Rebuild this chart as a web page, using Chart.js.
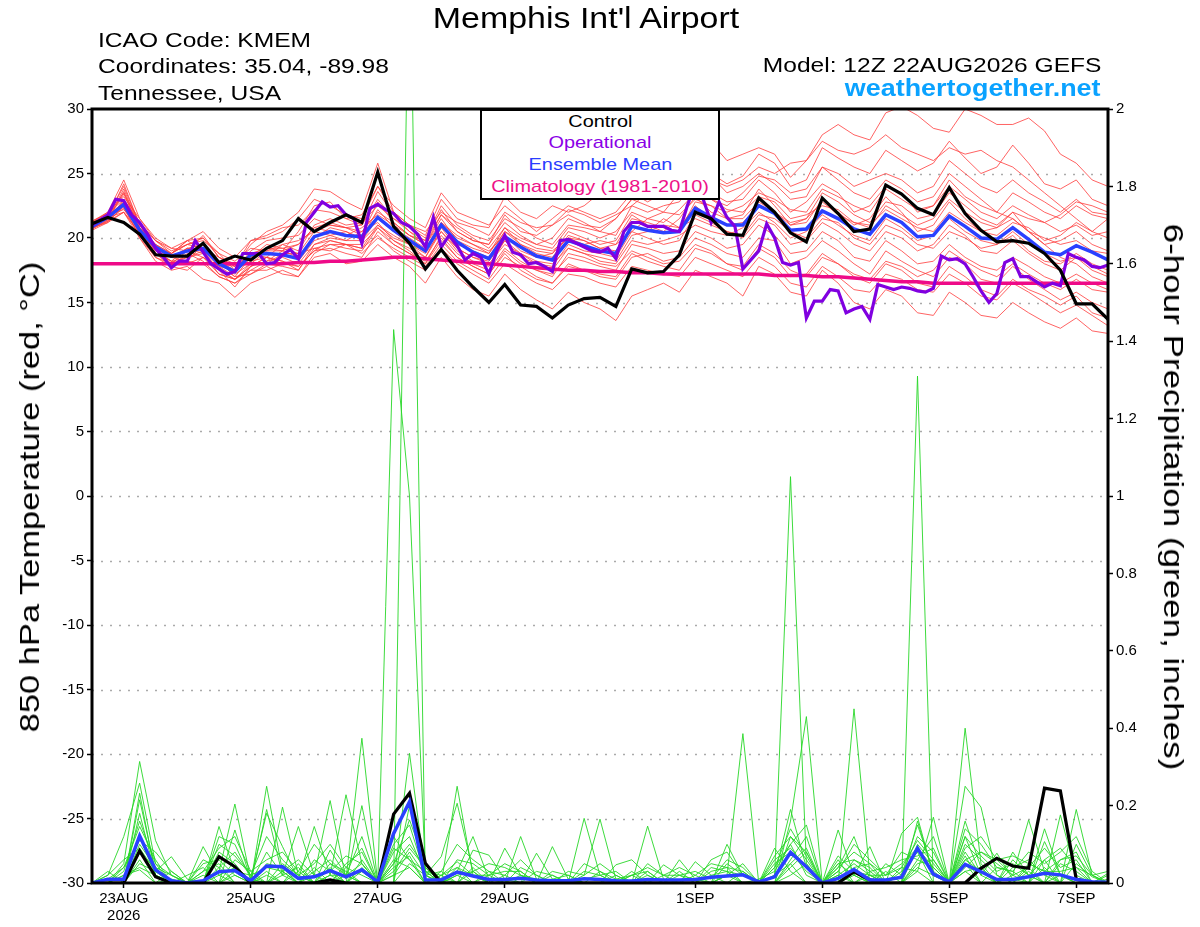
<!DOCTYPE html>
<html><head><meta charset="utf-8">
<script src="https://cdn.jsdelivr.net/npm/chart.js@4.4.1/dist/chart.umd.min.js"></script>
<style>
body{margin:0;background:#fff;}
#wrap{position:relative;width:1200px;height:927px;font-family:"Liberation Sans",Arial,sans-serif;overflow:hidden;}
#wrap canvas{position:absolute;left:0;top:0;}
.t{position:absolute;white-space:nowrap;color:#000;line-height:1;}
.l{transform-origin:left center;transform:scaleX(1.17);}
.r{transform-origin:right center;transform:scaleX(1.17);}
.c{transform:translateX(-50%) scaleX(1.17);}
#legend{position:absolute;left:480px;top:109px;width:240px;height:91px;box-sizing:border-box;border:2px solid #000;background:#fff;}
#legend div{position:absolute;left:0;width:100%;text-align:center;font-size:17px;line-height:1;white-space:nowrap;}
#legend span{display:inline-block;transform:scaleX(1.17);}
</style></head><body>
<div id="wrap">
<canvas id="c" width="1200" height="927"></canvas>
<div class="t c" style="left:586px;top:4px;font-size:29px;">Memphis Int'l Airport</div>
<div class="t l" style="left:98px;top:29px;font-size:21px;">ICAO Code: KMEM</div>
<div class="t l" style="left:98px;top:55px;font-size:21px;">Coordinates: 35.04, -89.98</div>
<div class="t l" style="left:98px;top:82px;font-size:21px;">Tennessee, USA</div>
<div class="t r" style="right:99px;top:54px;font-size:21px;">Model: 12Z 22AUG2026 GEFS</div>
<div class="t r" style="right:99px;top:77px;font-size:23px;font-weight:bold;color:#0aa2ff;">weathertogether.net</div>
<div id="legend">
  <div style="top:2px;color:#000;"><span>Control</span></div>
  <div style="top:23px;color:#8a00e6;"><span>Operational</span></div>
  <div style="top:45px;color:#2a3cff;"><span>Ensemble Mean</span></div>
  <div style="top:67px;color:#ee1188;"><span>Climatology (1981-2010)</span></div>
</div>
<div class="t" style="left:30px;top:497px;font-size:28px;transform:translate(-50%,-50%) rotate(-90deg) scaleX(1.23);">850 hPa Temperature (red, °C)</div>
<div class="t" style="left:1173px;top:497px;font-size:28px;transform:translate(-50%,-50%) rotate(90deg) scaleX(1.25);">6-hour Precipitation (green, inches)</div>
</div>
<script>
// ---- x axis (6-hourly steps from 12Z 22AUG2026) ----
const xTickSteps = [2, 10, 18, 26, 38, 46, 54, 62];
const xTickLabels = ['23AUG', '25AUG', '27AUG', '29AUG', '1SEP', '3SEP', '5SEP', '7SEP'];
const xTickYear = '2026';

// ---- 850 hPa temperature (°C) ----
const controlTemp = [21.1,21.6,21.2,20.3,18.7,18.6,18.6,19.6,18.1,18.6, 18.3,19.2,19.8,21.5,20.5,21.2,21.8,21.2,25.1,20.9, 19.6,17.6,19.1,17.5,16.2,15.0,16.4,14.8,14.7,13.8, 14.8,15.3,15.4,14.7,17.6,17.3,17.4,18.7,22.0,21.5, 20.3,20.2,23.1,22.0,20.4,19.7,23.1,21.9,20.5,20.7, 24.1,23.4,22.3,21.8,23.9,21.9,20.6,19.7,19.8,19.6, 18.8,17.5,14.9,14.9,13.7];
const meanTemp = [20.9,21.6,22.6,20.6,19.3,18.6,19.0,19.2,18.0,17.4, 18.7,18.8,18.7,18.4,20.1,20.5,20.2,20.1,21.6,20.6, 19.8,19.0,21.0,19.7,18.9,18.4,20.1,19.3,18.6,18.3, 19.8,19.4,19.0,18.8,20.9,20.6,20.4,20.5,22.3,21.6, 21.0,21.0,22.5,21.9,20.6,20.7,22.1,21.5,20.7,20.3, 21.8,21.2,20.1,20.2,21.7,20.9,20.0,19.9,20.8,19.9, 18.9,18.7,19.4,18.9,18.3];
const climoTemp = [18.0,18.0,18.0,18.0,18.0,18.0,18.0,18.0,18.0,18.0, 18.0,18.0,18.0,18.1,18.1,18.2,18.2,18.3,18.4,18.5, 18.5,18.4,18.3,18.2,18.1,18.0,17.9,17.8,17.7,17.6, 17.5,17.5,17.4,17.4,17.3,17.3,17.2,17.2,17.2,17.2, 17.2,17.2,17.2,17.1,17.1,17.1,17.0,17.0,16.9,16.8, 16.7,16.6,16.6,16.5,16.5,16.5,16.5,16.5,16.5,16.5, 16.5,16.5,16.5,16.5,16.5];
// operational run, 3-hourly
const operTemp = [21.0,21.4,21.8,23.0,22.9,21.8,21.2,20.3,19.2,18.5, 17.7,18.2,18.2,19.8,18.9,18.0,17.6,17.2,17.4,18.8, 18.8,18.8,18.0,18.1,18.7,19.1,18.4,21.2,22.0,22.8, 22.4,22.5,21.8,21.5,19.6,22.3,22.6,22.2,21.9,21.2, 20.9,20.3,19.3,21.6,19.3,20.2,19.4,18.3,18.8,18.5, 17.2,19.0,20.2,18.9,18.7,18.0,18.1,17.8,17.4,19.8, 19.9,19.6,19.3,19.0,18.9,19.2,18.4,20.5,21.2,21.2, 20.9,20.9,20.9,20.6,20.5,22.5,24.2,23.0,21.2,22.8, 21.6,20.9,17.6,18.3,19.0,21.1,20.0,18.1,17.9,18.1, 13.8,15.1,15.1,16.0,15.9,14.2,14.5,14.7,13.7,16.4, 16.2,16.0,16.2,16.1,15.9,15.8,16.1,18.6,18.3,18.4, 18.0,17.0,15.9,15.0,15.7,18.1,18.4,17.0,17.0,16.6, 16.2,16.5,16.3,18.8,18.5,18.3,17.8,17.7,17.9];

const tempMember01 = [21.0,21.8,24.0,21.0,19.5,18.8,19.5,20.0,18.5,17.8, 19.5,20.5,21.0,22.0,23.8,23.6,22.8,22.2,25.8,22.0, 21.0,20.2,23.0,21.5,21.0,20.8,23.2,22.0,21.5,22.5, 22.0,22.5,23.5,23.0,24.8,25.0,26.0,25.8,27.6,27.4, 26.0,26.5,27.0,26.5,24.7,26.0,28.0,28.8,28.0,27.6, 29.7,30.2,29.5,28.5,28.2,30.0,29.5,28.8,28.8,29.3, 28.3,26.5,25.8,24.5,24.0];
const tempMember02 = [21.2,21.5,23.4,20.8,19.0,18.2,19.2,18.8,17.6,16.8, 17.5,18.2,19.0,20.5,22.5,22.8,21.5,21.0,23.6,21.8, 20.5,19.8,22.2,20.5,19.8,19.5,21.8,20.5,20.2,21.0, 21.8,21.2,20.5,21.5,23.0,23.8,24.5,24.0,25.5,25.0, 24.2,24.8,26.5,25.8,24.0,24.5,27.0,26.2,25.5,25.0, 26.8,26.0,25.2,25.8,27.5,26.2,25.0,25.5,27.2,25.8, 24.2,23.8,24.5,23.0,22.5];
const tempMember03 = [20.8,21.2,22.0,20.0,18.2,17.5,17.8,16.8,16.5,15.4, 16.5,17.0,17.5,17.0,18.5,18.8,18.0,18.2,19.5,18.5, 17.8,16.5,18.5,17.0,16.0,15.5,17.2,16.0,15.2,14.5, 15.8,15.0,14.5,13.6,15.5,16.0,16.5,15.8,17.5,17.0, 16.5,15.5,17.8,17.2,15.8,15.5,17.5,16.5,15.0,14.5, 16.0,15.5,14.2,14.0,15.8,15.0,14.0,13.8,15.0,14.2, 13.5,13.0,13.8,12.8,12.6];
const tempMember04 = [21.0,21.9,23.0,21.2,19.8,19.0,19.5,19.8,18.8,18.2, 19.2,19.0,19.5,19.0,21.0,21.5,21.0,21.2,22.5,21.5, 20.8,20.0,22.5,21.0,20.2,19.8,21.5,20.8,20.0,19.5, 21.0,20.8,20.5,20.2,22.5,22.0,22.5,22.8,24.5,23.5, 22.8,23.0,24.5,23.5,22.0,22.8,24.2,23.5,22.0,22.5, 24.0,23.5,22.0,22.5,24.5,23.2,22.5,22.0,23.5,22.8, 22.0,21.5,22.5,21.8,21.5];
const tempMember05 = [20.7,21.4,22.3,20.2,18.8,18.0,18.5,18.8,17.2,16.8, 18.0,18.0,17.8,17.5,19.2,19.5,19.2,19.0,20.8,19.5, 18.8,18.2,20.0,18.5,17.8,17.2,19.0,18.0,17.5,17.2, 18.5,18.2,17.8,17.5,19.5,19.2,18.8,19.0,20.5,20.0, 19.2,19.5,21.0,20.2,18.8,19.0,20.5,19.8,18.5,18.2, 19.8,19.0,18.0,18.2,19.5,18.5,17.8,17.5,18.5,17.8, 17.0,16.5,17.2,16.5,16.0];
const tempMember06 = [21.1,21.7,22.8,20.5,19.0,18.5,18.2,19.5,18.2,17.0, 18.5,19.5,19.2,18.8,20.5,21.0,20.8,20.5,22.0,21.2, 20.2,19.5,21.5,19.8,19.2,18.8,20.8,19.5,19.0,18.8, 20.5,20.0,19.5,19.8,21.8,21.0,20.5,21.5,23.2,22.0, 21.5,21.8,23.8,22.5,21.0,21.2,23.0,22.0,21.0,21.5, 23.2,22.0,20.5,21.0,22.8,21.5,20.5,20.8,22.0,20.5, 19.5,19.8,20.5,19.5,19.0];
const tempMember07 = [20.9,21.5,23.8,20.8,19.2,18.8,19.8,19.0,17.8,17.5, 18.2,18.5,18.0,18.2,19.8,20.2,19.8,20.5,21.2,19.8, 19.2,18.5,20.8,19.2,18.5,18.0,19.5,18.8,18.2,18.0, 19.2,18.8,18.5,18.2,20.2,20.5,21.5,20.8,21.5,21.0, 20.5,20.2,21.8,21.5,20.5,20.0,21.5,21.2,20.0,19.5, 21.0,20.5,19.5,19.2,20.5,20.0,19.2,19.5,20.2,19.0, 18.2,18.0,18.8,18.0,17.5];
const tempMember08 = [21.3,22.0,23.2,21.5,20.0,19.2,19.0,20.2,18.5,17.8, 19.8,20.0,20.5,21.5,23.0,22.5,21.8,21.5,24.0,22.5, 21.5,20.8,23.5,22.0,21.5,21.0,22.5,21.5,20.5,21.5, 22.5,22.0,21.5,22.0,23.5,22.8,23.5,24.5,25.5,24.8, 23.5,24.0,25.0,24.2,23.0,23.2,25.5,24.5,23.5,23.0, 24.5,23.8,22.8,23.2,25.0,24.0,23.0,22.0,21.5,20.5, 19.5,18.5,18.0,17.0,16.5];
const tempMember09 = [20.6,21.2,22.5,20.0,18.5,17.8,18.8,18.2,17.0,16.5, 17.2,17.8,17.2,17.0,18.8,19.5,19.5,18.8,20.0,19.2, 18.5,17.8,19.5,18.2,17.5,16.8,18.5,17.8,17.0,16.5, 17.8,17.5,17.0,16.8,18.5,18.8,18.2,18.5,20.0,19.5, 18.8,18.5,20.0,19.8,18.0,18.5,19.8,19.0,18.0,17.2, 19.0,18.2,17.5,17.0,18.5,18.0,16.8,16.5,17.8,16.8, 16.0,15.2,15.8,15.0,14.5];
const tempMember10 = [21.2,21.8,22.2,20.8,19.5,18.5,19.2,19.5,18.0,17.8, 18.8,18.5,19.5,19.8,20.5,20.2,20.5,19.8,21.5,20.5, 19.5,19.0,21.0,19.5,19.0,18.5,20.5,19.5,18.8,18.5, 20.2,19.8,19.2,19.5,21.5,21.2,20.8,20.5,22.8,22.5, 21.5,21.5,22.8,22.0,21.0,21.5,22.8,21.8,21.2,20.8, 22.5,21.8,21.0,21.5,23.0,22.0,21.2,20.8,21.5,20.5, 20.0,19.5,19.8,19.0,18.8];
const tempMember11 = [20.8,21.3,22.0,20.3,18.8,18.2,18.0,18.5,17.5,16.2, 17.8,18.5,18.2,17.8,19.0,19.8,19.5,19.5,20.8,19.8, 19.0,18.0,20.2,18.8,18.0,17.5,19.2,18.2,17.5,17.0, 18.8,18.5,18.0,17.8,19.0,18.5,18.0,18.2,19.5,19.0, 18.0,17.5,19.2,18.5,17.0,17.2,18.8,18.0,17.0,16.5, 18.0,17.5,16.5,16.2,17.8,17.0,16.0,15.5,16.8,16.0, 15.5,14.8,15.5,14.2,13.8];
const tempMember12 = [21.0,21.6,24.2,21.0,19.2,18.5,19.0,19.2,18.0,17.2, 18.0,19.0,19.0,18.5,20.0,20.8,20.5,20.0,22.2,20.8, 20.0,19.2,21.2,20.2,19.5,18.8,20.5,19.8,19.2,19.0, 20.0,19.5,19.8,19.5,20.5,21.5,22.0,21.8,23.0,22.5, 22.0,22.5,23.5,23.0,22.2,22.0,23.8,23.2,22.5,22.0, 23.8,23.0,22.2,22.5,24.0,23.0,22.0,21.5,22.5,21.8, 21.2,20.5,21.0,20.2,20.5];
const tempMember13 = [20.9,21.4,23.6,20.5,19.0,18.2,18.5,19.0,17.5,16.8, 17.8,18.2,18.5,18.0,19.5,20.0,19.8,19.8,21.0,20.0, 19.5,18.5,20.5,19.0,18.2,17.8,19.8,18.8,18.0,17.8, 19.5,19.0,18.8,18.5,20.5,20.0,19.5,19.8,21.8,21.2, 20.5,20.0,21.5,21.0,19.5,19.8,21.2,20.5,19.5,19.0, 20.5,20.0,19.0,19.5,21.0,20.2,19.0,18.8,19.8,18.8, 18.0,17.5,18.5,17.8,17.2];
const tempMember14 = [21.3,21.9,22.5,21.0,19.8,18.8,19.8,20.0,18.8,17.5, 19.0,19.8,20.0,20.2,21.5,21.0,20.8,21.0,23.0,21.5, 20.5,19.5,21.8,20.5,19.8,19.5,21.2,20.2,19.5,20.0, 21.5,21.0,20.8,21.5,23.0,22.5,22.0,23.5,24.0,23.0, 22.5,23.5,24.8,24.5,23.5,23.8,25.5,25.0,24.0,24.5, 25.0,24.5,23.5,24.0,26.0,25.0,24.0,23.5,24.5,23.5, 22.8,22.0,23.0,22.0,21.8];
const tempMember15 = [20.7,21.3,23.0,20.2,18.5,18.0,18.2,18.0,17.0,16.5, 17.5,17.5,18.0,17.8,19.0,19.2,18.8,18.5,20.5,19.5, 18.8,18.0,19.8,18.5,17.8,17.2,18.8,17.5,16.8,16.5, 18.0,17.5,17.2,17.0,18.8,18.2,17.8,17.5,19.2,18.8, 18.0,17.8,19.5,18.8,17.5,17.0,18.5,18.0,17.2,16.8, 18.2,17.8,17.0,17.5,19.0,18.2,17.5,17.0,18.0,17.2, 16.5,16.0,16.8,16.0,15.8];
const tempMember16 = [21.0,21.7,22.8,20.8,19.5,18.8,19.5,19.2,18.5,18.0, 18.5,19.2,19.0,19.5,20.8,20.5,20.2,20.8,21.8,21.0, 20.2,19.8,21.8,20.8,20.0,19.2,20.8,20.0,19.5,19.2, 20.8,20.5,20.0,20.5,22.0,21.5,21.2,22.2,23.5,23.0, 22.2,22.0,23.2,22.8,21.5,21.8,22.5,22.2,21.2,21.0, 22.2,21.5,20.8,20.5,22.0,21.2,20.5,20.2,21.2,20.8, 19.8,20.2,21.2,20.5,21.5];
const tempMember17 = [20.8,21.5,22.4,20.5,18.8,17.8,17.5,18.5,17.8,17.0, 17.2,18.0,18.8,18.8,19.2,19.0,19.5,19.2,20.2,19.0, 18.2,17.5,19.2,18.0,17.2,16.5,18.0,17.2,16.5,16.0, 17.2,17.0,16.5,16.2,17.8,17.5,17.2,17.0,18.5,18.0, 17.5,17.0,18.5,17.8,16.5,16.2,17.8,17.0,16.0,15.8, 17.2,16.8,16.0,15.8,17.2,16.5,15.5,15.2,16.5,15.8, 15.0,14.2,14.8,14.0,13.2];
const tempMember18 = [21.1,21.8,23.5,21.2,19.2,18.5,19.2,19.0,18.2,17.5, 18.8,19.2,19.2,19.5,20.8,21.2,20.8,20.2,22.8,21.2, 20.2,19.5,21.2,20.0,19.5,19.0,20.2,19.0,18.5,18.8, 20.0,19.8,19.2,19.0,21.0,20.5,21.0,20.8,22.5,21.5, 21.0,21.2,22.5,22.0,21.2,21.5,23.5,22.8,21.8,21.2, 22.8,22.5,21.5,21.8,23.5,22.5,21.5,21.0,22.0,21.5, 21.2,21.8,22.8,22.5,22.0];
const tempMember19 = [20.9,21.6,22.0,20.5,19.2,18.0,19.0,18.5,17.2,16.8, 17.8,18.5,18.2,17.5,19.5,19.8,19.5,19.2,21.0,20.2, 19.5,18.8,20.5,19.2,18.5,18.2,19.8,18.5,18.0,17.5, 19.2,18.8,18.2,18.0,19.8,19.5,19.8,20.2,21.0,20.5, 20.2,20.8,22.0,21.2,20.0,20.5,21.8,21.0,20.2,19.8, 21.5,20.8,19.8,20.2,21.5,20.5,19.8,19.5,20.5,19.5, 18.8,18.2,18.5,17.5,17.0];
const tempMember20 = [21.2,22.0,24.5,21.5,19.8,19.2,19.8,20.5,19.2,18.5, 19.8,20.2,20.8,21.0,22.2,22.0,21.5,21.8,24.0,22.0, 21.0,20.5,22.0,21.2,20.8,20.2,22.0,21.2,20.8,21.0, 22.2,21.8,21.2,21.8,22.5,23.5,24.0,23.8,25.0,24.5, 24.0,24.5,25.5,25.0,25.8,26.0,27.5,26.8,26.5,27.0, 28.0,27.0,26.5,26.0,27.0,26.5,26.8,26.0,25.5,24.5, 23.5,22.5,21.5,20.5,20.0];
const tempMembers = [tempMember01,tempMember02,tempMember03,tempMember04,tempMember05,tempMember06,tempMember07,tempMember08,tempMember09,tempMember10,tempMember11,tempMember12,tempMember13,tempMember14,tempMember15,tempMember16,tempMember17,tempMember18,tempMember19,tempMember20];

// ---- 6-hour precipitation (inches) ----
const controlPrecip = [0,0,0,.083,.016,0,0,0,.068,.042, 0,0,0,0,0,.008,0,0,0,.178, .232,.051,0,0,0,0,0,0,0,0, 0,0,0,0,0,0,0,0,0,0, 0,0,0,0,0,0,0,0,.029,.008, 0,0,0,0,0,0,.038,.064,.044,.038, .245,.238,.01,0,0];
const meanPrecip = [0,.01,.01,.122,.034,.006,0,.006,.029,.032, .006,.044,.042,.012,.016,.032,.016,.034,.003,.128, .21,.008,.008,.028,.018,.009,.009,.012,.008,.006, .006,.011,.009,.006,.005,.009,.008,.008,.009,.015, .018,.021,.003,.016,.079,.042,0,.012,.035,.008, .008,.015,.09,.023,.003,.048,.029,.009,.009,.016, .025,.021,.009,.003,.002];
const precipMember01 = [0,0,.05,.314,.11,.02,0,0,.03,.204, .01,0,0,0,0,.02,.228,.05,0,0, 2.5,0,0,.03,.12,.01,0,0,0,0, 0,.02,.165,.01,0,0,0,0,0,0, .02,.386,0,.02,.19,.04,0,0,.02,.094, 0,0,.03,.17,0,.40,.05,0,.02,.163, .03,0,.19,.02,0];
const precipMember02 = [0,.02,.12,.258,.05,0,0,.094,.02,0, 0,.25,.03,0,.02,.213,.01,.374,0,1.43, 1.0,.03,0,.25,.02,0,0,.12,.01,0, 0,0,0,0,0,.147,.01,0,0,0, 0,0,0,.02,1.05,.05,0,.137,.02,0, 0,0,.16,.02,0,.25,.196,.02,0,0, .14,.02,0,0,0];
const precipMember03 = [0,0,0,.232,.02,0,0,0,.146,.03, 0,.19,.02,.146,.02,0,0,.20,0,0, .335,.02,.068,.206,.03,0,0,0,0,.094, .01,0,0,0,0,0,0,0,0,0, .10,.02,0,0,.16,.43,0,0,.45,.02, 0,0,1.31,0,0,.16,.04,0,.08,.02, 0,.176,.02,0,0];
const precipMember04 = [0,0,0,.215,.03,.068,.01,0,0,.137, .01,0,.196,.02,0,.085,.02,0,0,.05, .163,.05,.01,0,.085,.072,.01,0,0,0, 0,.167,.02,0,0,0,0,.06,.01,0, 0,0,0,.09,.03,0,0,.04,.12,.01, 0,.128,.17,.02,0,.12,.02,.077,.01,0, .107,.02,0,0,.025];
const precipMember05 = [0,0,0,.18,.02,0,0,0,.12,.10, .01,.18,.094,.01,.146,.02,0,.03,0,.08, .12,.02,0,0,0,0,.09,.02,0,0, 0,0,0,.047,.06,.02,0,0,0,.06, .08,.02,0,0,.05,0,0,.02,0,0, .05,.02,.15,.03,0,.05,0,0,.06,.02, 0,0,.05,.016,0];
const precipMember06 = [0,0,.04,.146,.06,0,0,.03,.05,0, 0,0,.02,.04,0,.05,.03,0,0,.12, .06,0,.02,.055,.02,0,0,0,.077,.01, 0,0,0,0,0,0,.047,.02,0,0, 0,0,0,0,.12,.06,0,.03,0,.03, 0,0,.06,.04,0,.08,.02,0,0,.05, .03,.03,.04,0,0];
const precipMember07 = [0,0,0,.12,.02,0,0,0,0,.03, .02,0,0,0,0,0,.05,.08,0,.03, .09,.04,0,0,0,.02,.03,.03,0,0, 0,0,0,0,.02,0,0,0,.055,.02, 0,0,.01,.03,.10,.02,0,0,.06,.04, 0,0,.10,.05,0,.03,0,.04,.03,0, .06,0,0,0,0];
const precipMember08 = [0,.03,0,.077,.04,.02,0,0,.08,.05, 0,.05,.04,0,.06,.03,0,.06,0,0, .05,.02,0,0,.03,0,0,0,0,.03, .02,0,0,0,0,0,0,0,0,.03, .04,0,0,.05,.08,.03,0,.02,.05,.02, 0,0,.05,.06,0,.06,.03,0,0,.03, 0,.05,.03,0,0];
const precipMember09 = [0,0,0,.05,.03,0,.02,.04,0,.06, .03,0,.05,.02,0,0,.04,.02,0,.04, .07,0,0,.02,0,0,0,.02,0,0, 0,.03,.02,0,0,.03,0,0,0,0, 0,.03,0,0,.06,.12,0,.06,0,.02, 0,.03,.08,0,0,.10,.06,.02,0,0, .04,0,.10,.02,0];
const precipMember10 = [0,0,.02,.034,0,.03,0,0,.04,0, 0,.03,0,.03,0,.04,0,.04,0,.02, .04,0,.03,0,.04,0,.02,0,0,0, .01,0,0,0,.03,0,0,0,.02,0, .05,.02,0,0,.04,.08,0,0,.03,0, .03,0,.04,.02,0,.04,.08,.05,.02,0, 0,.02,0,0,.02];
const precipMember11 = [0,0,0,.10,.04,0,0,0,.02,.04, 0,0,.03,0,.04,0,.02,.03,0,0, .2,.03,0,.04,0,.03,0,0,0,.02, 0,0,0,.02,0,0,.02,0,0,0, .02,0,0,.04,.14,.07,0,0,.04,.05, 0,.02,.12,.08,0,.07,0,0,.04,.06, .02,0,0,0,0];
const precipMember12 = [0,0,0,.06,0,.01,0,.02,0,.02, 0,.02,0,.05,0,.02,.02,0,0,.06, .04,0,.02,0,0,0,0,.04,.02,0, 0,0,0,0,0,0,0,.03,0,.04, .03,0,0,0,.02,.05,0,.05,.02,0, 0,.04,.03,0,0,.03,.04,0,0,.04, 0,.06,.08,0,0];
const precipMember13 = [0,.02,.06,.09,.03,0,0,.05,.06,.02, 0,.08,.02,0,.03,.06,.02,.12,0,.02, .08,.02,0,.06,.05,.02,0,0,.03,.02, 0,.05,.03,0,.02,.03,0,0,0,.02, .03,.02,0,.06,.09,.04,0,.07,.03,.02, .02,.05,.09,.04,0,.12,.07,.03,.05,.02, .06,.09,.04,.02,.03];
const precipMember14 = [0,0,.03,.16,.05,.02,0,0,.10,.07, .02,.12,.06,.02,.05,.10,.04,.09,0,.10, .15,.02,.03,.10,.06,.03,.02,.06,.02,0, .03,.02,.05,.02,0,.05,.02,.02,.03,.01, .06,.04,0,.04,.10,.15,0,.04,.08,.05, .02,.08,.06,.12,0,.14,.10,.04,.03,.08, .05,.08,.12,.03,0];
const precipMember15 = [0,0,.02,.04,.02,0,0,.03,.09,.12, .03,.06,.08,.03,.10,.05,.02,.05,0,.05, .10,.04,0,.02,.03,.05,.04,.02,.01,0, 0,.01,.02,.03,0,.02,0,.02,.01,0, .02,.05,0,.02,.05,.09,0,.03,.10,.06, .02,.04,.11,.06,0,.09,.12,.06,.02,.04, .09,.04,.06,0,.01];
const precipMember16 = [0,.01,.04,.11,.08,.03,0,.06,.04,.08, .02,.04,.03,.06,.02,.03,.07,.05,0,.09, .06,.03,.02,.04,.02,.02,.05,.03,0,.01, .02,0,.03,.01,.02,.04,.02,.04,.02,.05, .04,.03,0,.07,.12,.08,0,.05,.06,.03, .04,.06,.07,.09,0,.06,.08,.06,.07,.05, .03,.06,.07,.02,0];
const precipMembers = [precipMember01,precipMember02,precipMember03,precipMember04,precipMember05,precipMember06,precipMember07,precipMember08,precipMember09,precipMember10,precipMember11,precipMember12,precipMember13,precipMember14,precipMember15,precipMember16];

// ---- build datasets (listed bottom -> top) ----
const FONT = '"Liberation Sans", Arial, sans-serif';
const toPts = (arr, step) => arr.map((v, i) => ({ x: i * step, y: v }));
const layers = [];
tempMembers.forEach(m => layers.push({ data: toPts(m, 1), yAxisID: 'yT', borderColor: 'rgba(255,60,60,0.8)', borderWidth: 1 }));
precipMembers.forEach(m => layers.push({ data: toPts(m, 1), yAxisID: 'yP', borderColor: 'rgba(40,215,40,0.9)', borderWidth: 1 }));
layers.push({ data: toPts(climoTemp, 1), yAxisID: 'yT', borderColor: '#ee0a88', borderWidth: 3.5 });
layers.push({ data: toPts(meanTemp, 1), yAxisID: 'yT', borderColor: '#2a40ff', borderWidth: 3.5 });
layers.push({ data: toPts(operTemp, 0.5), yAxisID: 'yT', borderColor: '#8000e0', borderWidth: 3.2 });
layers.push({ data: toPts(controlTemp, 1), yAxisID: 'yT', borderColor: '#000000', borderWidth: 3.2 });
layers.push({ data: toPts(controlPrecip, 1), yAxisID: 'yP', borderColor: '#000000', borderWidth: 3.2 });
layers.push({ data: toPts(meanPrecip, 1), yAxisID: 'yP', borderColor: '#2a40ff', borderWidth: 3.5 });
const datasets = layers.map((d, i) => Object.assign({ order: layers.length - i, pointRadius: 0, tension: 0, fill: false }, d));

const framePlugin = {
  id: 'frame',
  beforeDatasetsDraw(chart) {
    const { ctx, chartArea: a } = chart;
    const yT = chart.scales.yT;
    ctx.save();
    ctx.strokeStyle = '#aaaaaa';
    ctx.lineWidth = 1.5;
    ctx.setLineDash([2, 7]);
    for (let v = -25; v <= 25; v += 5) {
      const y = Math.round(yT.getPixelForValue(v)) + 0.5;
      ctx.beginPath(); ctx.moveTo(a.left, y); ctx.lineTo(a.right, y); ctx.stroke();
    }
    ctx.restore();
  },
  afterDatasetsDraw(chart) {
    const { ctx, chartArea: a } = chart;
    ctx.save();
    ctx.strokeStyle = '#000';
    ctx.lineWidth = 3;
    ctx.strokeRect(a.left, a.top, a.right - a.left, a.bottom - a.top);
    ctx.restore();
  }
};

Chart.defaults.font.family = FONT;
new Chart(document.getElementById('c'), {
  type: 'line',
  data: { datasets },
  options: {
    responsive: false,
    animation: false,
    events: [],
    layout: { padding: { top: 109, left: 0, right: 0, bottom: 0 } },
    plugins: { legend: { display: false }, tooltip: { enabled: false }, title: { display: false } },
    scales: {
      x: {
        type: 'linear', min: 0, max: 64, position: 'bottom',
        afterBuildTicks: s => { s.ticks = xTickSteps.map(v => ({ value: v })); },
        afterFit: s => { s.height = 44; },
        ticks: {
          autoSkip: false, maxRotation: 0, minRotation: 0, color: '#000', padding: 2,
          font: { size: 15, family: FONT, lineHeight: 1.15 },
          callback: (v) => {
            const i = xTickSteps.indexOf(v);
            if (i < 0) return '';
            return i === 0 ? [xTickLabels[i], xTickYear] : xTickLabels[i];
          }
        },
        grid: { drawOnChartArea: false, drawTicks: true, tickLength: 5, tickColor: '#000', tickWidth: 1.5 },
        border: { display: false }
      },
      yT: {
        type: 'linear', position: 'left', min: -30, max: 30,
        afterFit: s => { s.width = 92; },
        ticks: { stepSize: 5, color: '#000', padding: 3, font: { size: 15, family: FONT } },
        grid: { drawOnChartArea: false, drawTicks: true, tickLength: 5, tickColor: '#000', tickWidth: 1.5 },
        border: { display: false }
      },
      yP: {
        type: 'linear', position: 'right', min: 0, max: 2,
        afterFit: s => { s.width = 92; },
        ticks: {
          stepSize: 0.2, color: '#000', padding: 3, font: { size: 15, family: FONT },
          callback: v => String(Math.round(v * 10) / 10)
        },
        grid: { drawOnChartArea: false, drawTicks: true, tickLength: 5, tickColor: '#000', tickWidth: 1.5 },
        border: { display: false }
      }
    }
  },
  plugins: [framePlugin]
});
</script>
</body></html>
